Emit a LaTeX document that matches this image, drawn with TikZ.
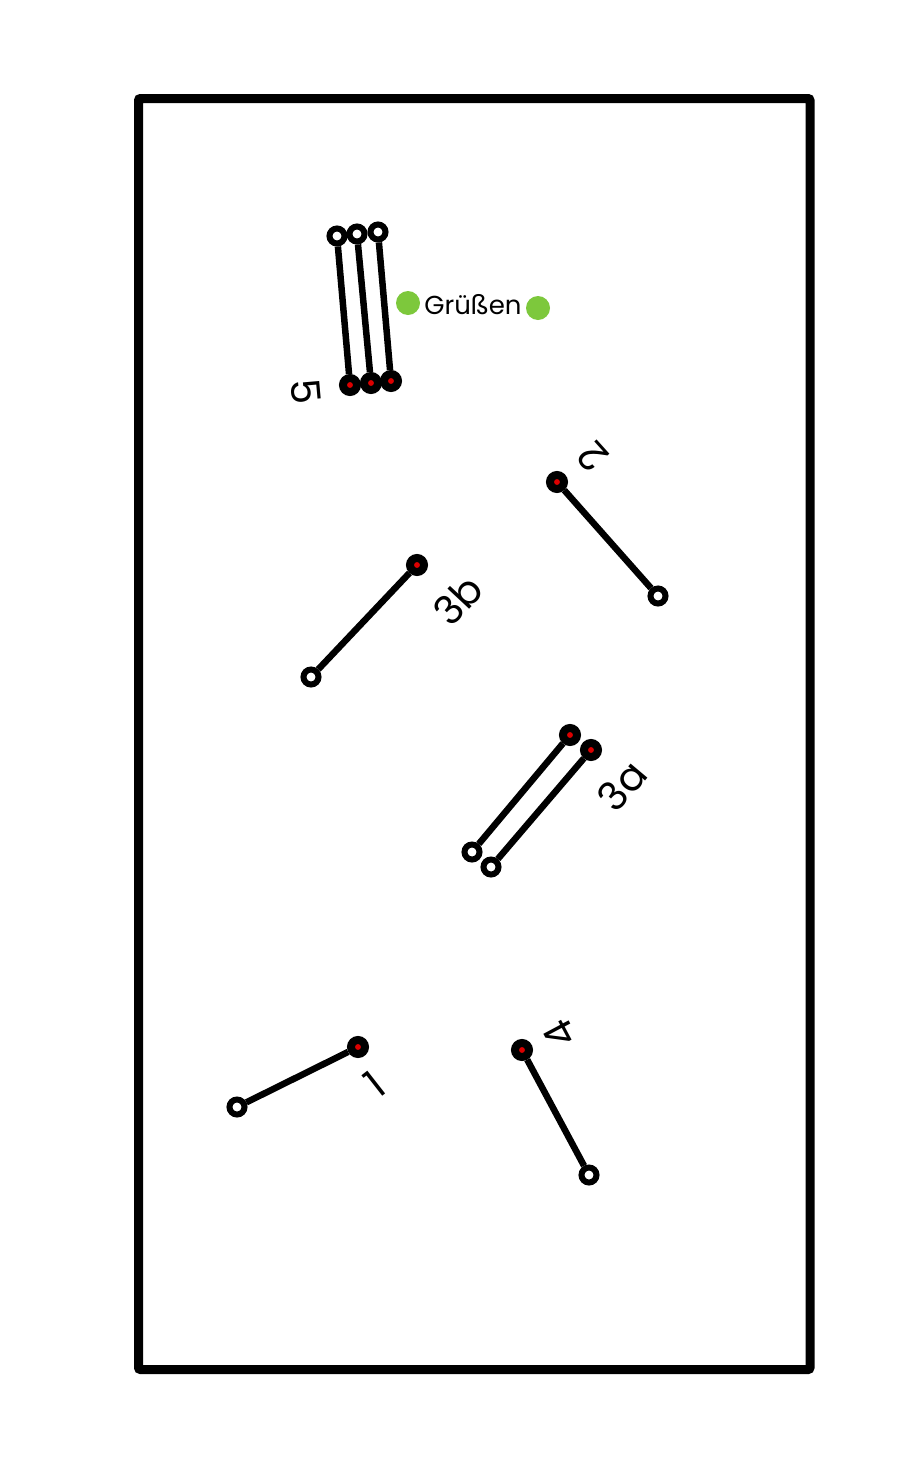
\documentclass[tikz,border=0pt]{standalone}
\usepackage{fontspec}
\setmainfont{Poppins}
\definecolor{dotred}{RGB}{220,0,0}
\definecolor{dotgreen}{RGB}{125,200,60}

\begin{document}
\begin{tikzpicture}[x=1pt, y=-1pt,
  tail/.style={circle, draw=black, fill=white, line width=6pt, inner sep=0pt, minimum size=15pt},
  head/.style={circle, draw=black, fill=dotred, line width=8pt, inner sep=0pt, minimum size=14pt},
  bar/.style={line width=6.5pt},
  lbl/.style={font=\fontsize{40}{42}\selectfont, inner sep=0pt},
  greet/.style={circle, fill=dotgreen, inner sep=0pt, minimum size=24pt}]
\useasboundingbox (0,0) rectangle (905,1470);
\draw[line width=9pt, rounded corners=2pt] (138.5,98.5) rectangle (810,1369.5);
% player 5
\node[tail] (t5a) at (337,236) {};
\node[tail] (t5b) at (357,234) {};
\node[tail] (t5c) at (378,232) {};
\node[head] (h5a) at (350,385) {};
\node[head] (h5b) at (371,383) {};
\node[head] (h5c) at (391,381) {};
\draw[bar] (t5a) -- (h5a);
\draw[bar] (t5b) -- (h5b);
\draw[bar] (t5c) -- (h5c);
\node[lbl, rotate=-85] (l5) at (306,392) {5};
% greeting
\node[greet] (g1) at (408,303) {};
\node[greet] (g2) at (538,308) {};
\node[font=\fontsize{26}{28}\selectfont, inner sep=0pt] (gt) at (473,305) {Grüßen};
% player 2
\node[head] (h2) at (557,482) {};
\node[tail] (t2) at (658,596) {};
\draw[bar] (t2) -- (h2);
\node[lbl, rotate=132] (l2) at (593,457) {2};
% player 3b
\node[head] (h3b) at (417,565) {};
\node[tail] (t3b) at (311,677) {};
\draw[bar] (t3b) -- (h3b);
\node[lbl, rotate=47] (l3b) at (458,600) {3b};
% player 3a
\node[head] (h3a) at (570,735) {};
\node[head] (h3c) at (591,750) {};
\node[tail] (t3a) at (472,852) {};
\node[tail] (t3c) at (491,867) {};
\draw[bar] (t3a) -- (h3a);
\draw[bar] (t3c) -- (h3c);
\node[lbl, rotate=50] (l3a) at (622,786) {3a};
% player 1
\node[head] (h1) at (358,1047) {};
\node[tail] (t1) at (237,1107) {};
\draw[bar] (t1) -- (h1);
\node[lbl, rotate=38] (l1) at (375,1084) {1};
% player 4
\node[head] (h4) at (522,1050) {};
\node[tail] (t4) at (589,1175) {};
\draw[bar] (t4) -- (h4);
\node[lbl, rotate=118] (l4) at (560,1034) {4};
\end{tikzpicture}
\end{document}
